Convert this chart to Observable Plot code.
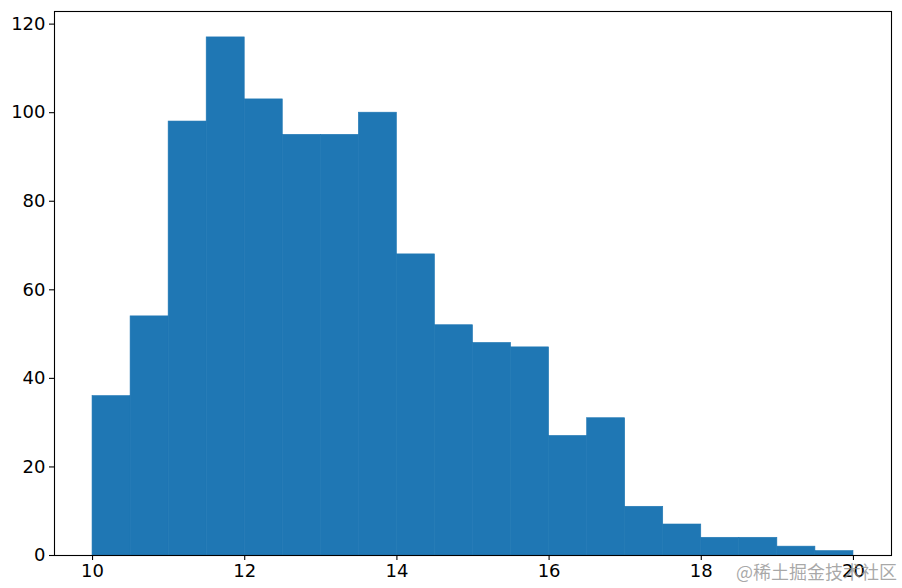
<!DOCTYPE html>
<html>
<head>
<meta charset="utf-8">
<script src="https://cdn.jsdelivr.net/npm/d3@7"></script>
<script src="https://cdn.jsdelivr.net/npm/@observablehq/plot@0.6"></script>
<style>
  html, body { margin: 0; padding: 0; background: #fff; }
  #wrap { position: relative; width: 902px; height: 588px; }
  #wm { position: absolute; left: 736px; top: 559px; font-family: "Noto Sans CJK SC", sans-serif; font-size: 18px; color: rgba(140,140,140,0.75); white-space: nowrap; line-height: 24px; }
</style>
</head>
<body>
<div id="wrap"><div id="chart"></div><div id="wm">@稀土掘金技术社区</div></div>
<script>
const binStarts = [10, 10.5, 11, 11.5, 12, 12.5, 13, 13.5, 14, 14.5, 15, 15.5, 16, 16.5, 17, 17.5, 18, 18.5, 19, 19.5];
const binWidth = 0.5;
const counts = [36, 54, 98, 117, 103, 95, 95, 100, 68, 52, 48, 47, 27, 31, 11, 7, 4, 4, 2, 1];
const xTicks = [10, 12, 14, 16, 18, 20];
const yTicks = [0, 20, 40, 60, 80, 100, 120];

const bins = binStarts.map((s, i) => ({x1: s, x2: s + binWidth, count: counts[i]}));

const chart = Plot.plot({
  width: 902,
  height: 588,
  marginLeft: 54,
  marginRight: 11,
  marginTop: 11,
  marginBottom: 33,
  style: {fontFamily: "DejaVu Sans", fontSize: "18px", color: "#000", background: "#fff"},
  x: {domain: [9.5, 20.5], ticks: xTicks, tickSize: 5, tickPadding: 4, label: null},
  y: {domain: [0, 122.85], ticks: yTicks, tickSize: 5, tickPadding: 4, label: null},
  marks: [
    Plot.rectY(bins, {x1: "x1", x2: "x2", y: "count", fill: "#1f77b4", stroke: "#1f77b4", strokeWidth: 0.6, inset: 0}),
    Plot.frame({stroke: "#000", strokeWidth: 1.1}),
    Plot.axisX({ticks: xTicks, tickSize: 5, tickPadding: 4, fontSize: 18, stroke: "#000", strokeWidth: 1.1}),
    Plot.axisY({ticks: yTicks, tickSize: 5, tickPadding: 4, fontSize: 18, stroke: "#000", strokeWidth: 1.1})
  ]
});
document.getElementById("chart").appendChild(chart);
</script>
</body>
</html>
